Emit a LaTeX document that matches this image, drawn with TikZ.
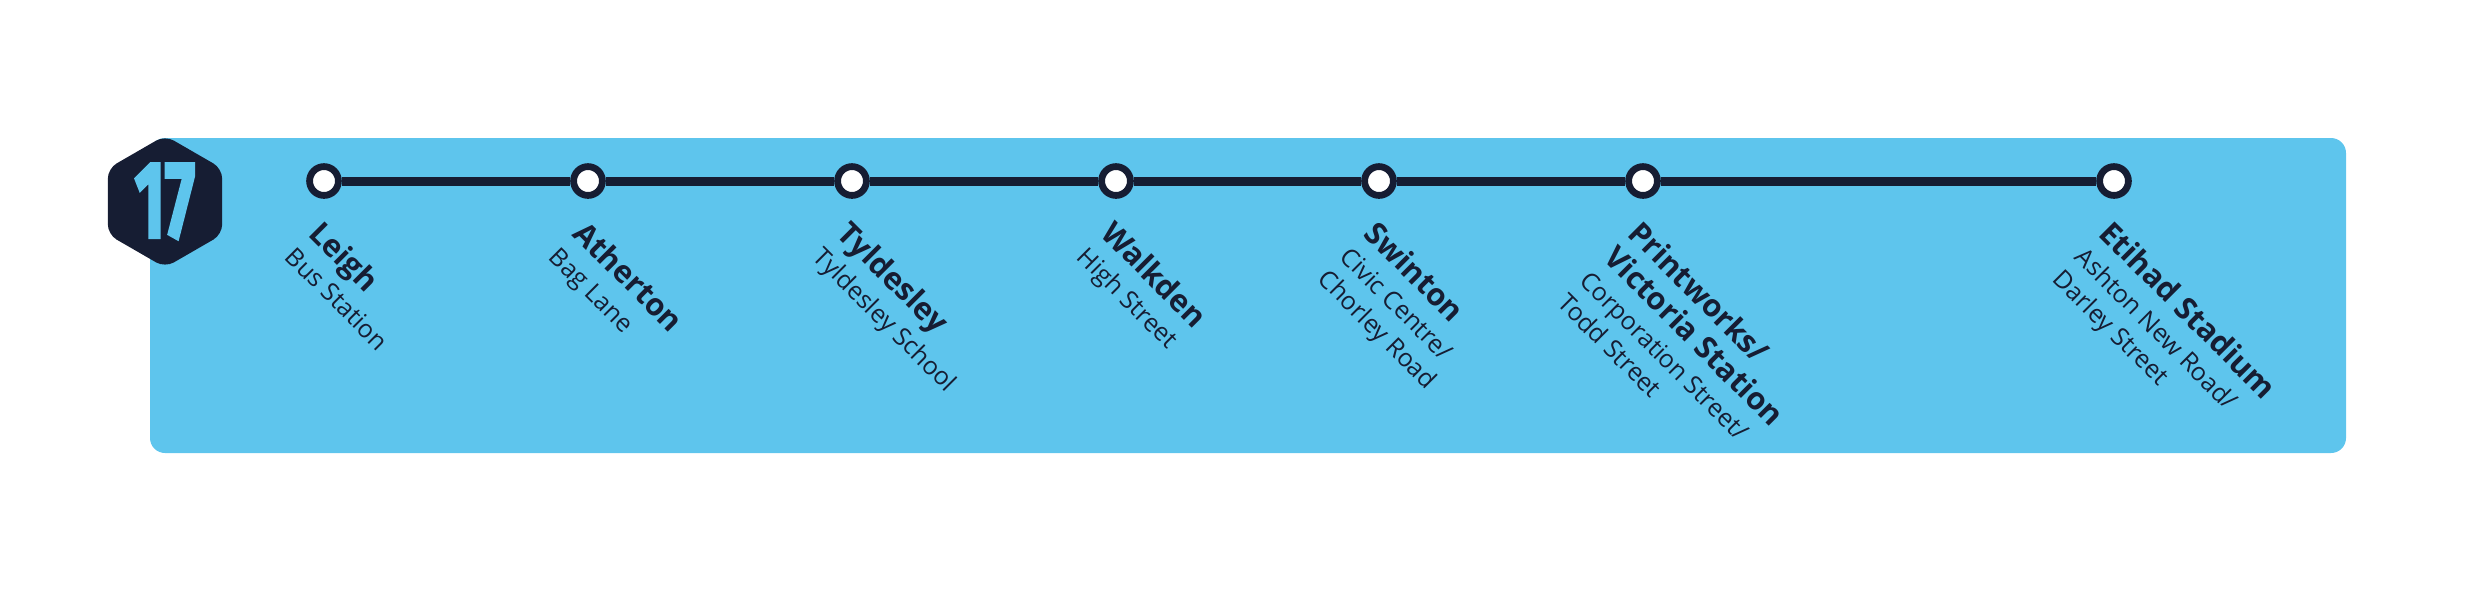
\documentclass[tikz,border=0pt]{standalone}
\usepackage{fontspec}
\setmainfont{Open Sans}
\newfontfamily\badgefont[FakeBold=3.5]{Fira Sans Bold}
\usetikzlibrary{shapes.geometric}
\definecolor{skyb}{HTML}{5EC5ED}
\definecolor{navy}{HTML}{161D33}
\newcommand{\bl}[1]{{\fontsize{15.4}{18.5}\selectfont\bfseries #1}}
\begin{document}
\begin{tikzpicture}[x=0.5pt,y=-0.5pt,
  stop/.style={circle, draw=navy, fill=white, line width=3.4pt, minimum size=14.4pt, inner sep=0pt},
  lbl/.style={rotate=-45, anchor=north west, align=left, inner sep=0pt, text=navy, font=\fontsize{12.5}{15.6}\selectfont},
  track/.style={draw=navy, line width=4.5pt}]
\useasboundingbox (0,0) rectangle (2480,591);
\fill[skyb, rounded corners=7.5pt] (150,138) rectangle (2346,453);
\node[regular polygon, regular polygon sides=6, shape border rotate=30, fill=navy, minimum size=66pt, inner sep=0pt, rounded corners=5pt, text=skyb] (badge) at (165,201.5) {\scalebox{0.6}[1]{\fontsize{54}{54}\badgefont 17}};
\node[stop] (s1) at (324,181) {};
\node[stop] (s2) at (588,181) {};
\node[stop] (s3) at (852,181) {};
\node[stop] (s4) at (1116,181) {};
\node[stop] (s5) at (1379,181) {};
\node[stop] (s6) at (1643,181) {};
\node[stop] (s7) at (2114,181) {};
\draw[track] (s1) -- (s2);
\draw[track] (s2) -- (s3);
\draw[track] (s3) -- (s4);
\draw[track] (s4) -- (s5);
\draw[track] (s5) -- (s6);
\draw[track] (s6) -- (s7);
\node[lbl] (l1) at ([yshift=-18.5pt]s1.center) {\bl{Leigh}\\[1pt]Bus Station};
\node[lbl] (l2) at ([yshift=-18.5pt]s2.center) {\bl{Atherton}\\[1pt]Bag Lane};
\node[lbl] (l3) at ([yshift=-18.5pt]s3.center) {\bl{Tyldesley}\\[1pt]Tyldesley School};
\node[lbl] (l4) at ([yshift=-18.5pt]s4.center) {\bl{Walkden}\\[1pt]High Street};
\node[lbl] (l5) at ([yshift=-18.5pt]s5.center) {\bl{Swinton}\\[1pt]Civic Centre/\\Chorley Road};
\node[lbl] (l6) at ([yshift=-18.5pt]s6.center) {\bl{Printworks/}\\[1.5pt]\bl{Victoria Station}\\[1pt]Corporation Street/\\Todd Street};
\node[lbl] (l7) at ([yshift=-18.5pt]s7.center) {\bl{Etihad Stadium}\\[1pt]Ashton New Road/\\Darley Street};
\end{tikzpicture}
\end{document}
